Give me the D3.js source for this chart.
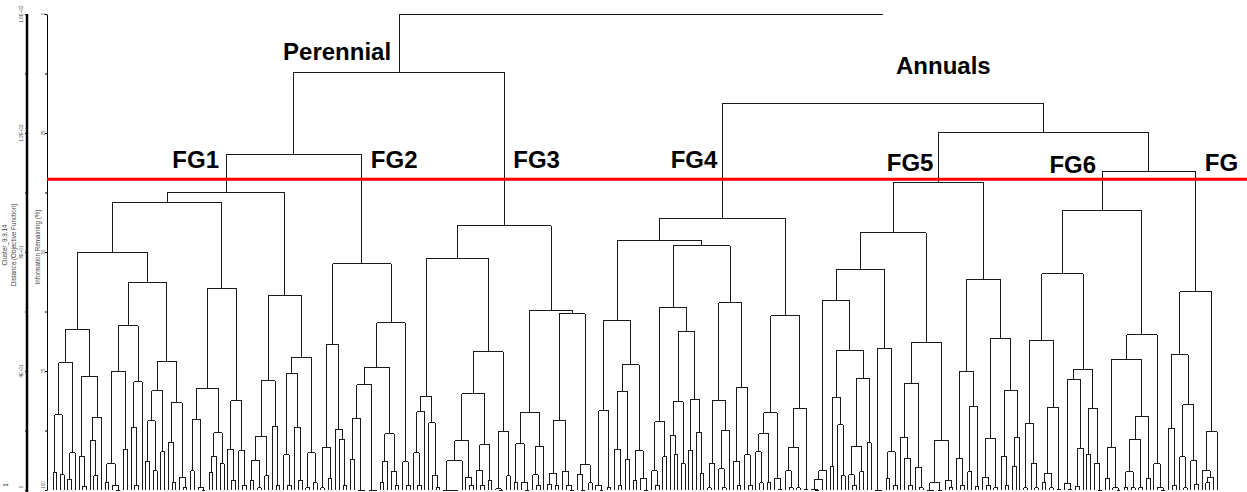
<!DOCTYPE html>
<html>
<head>
<meta charset="utf-8">
<script src="https://cdn.jsdelivr.net/npm/d3@7"></script>
<style>
body { margin: 0; background: #fff; }
svg { display: block; font-family: Arial, "Liberation Sans", sans-serif; }
</style>
</head>
<body>
<svg id="chart" width="1247" height="492"></svg>
<script>
// merge level of every cluster, as Information Remaining (%); a leaf is 0
const fg1 = [37.6,
  [39.5,
    [50.0,
      [66.2,
        [73.3, [84.2, [96.4,0,0], [96.8,0,0]], [92.2, [97.7,0,0], 0]],
        [76.1, [92.9, 0, [99.2,0,0]], [84.7, [89.7,0,[97,0,0]], 0]]],
      [56.5,
        [65.5, [75.2, [94.5,[98.5,0,0],[99,0,[100,0,0]]], [91.4,0,0]], [77.3, [86.8,0,[99,0,0]], 0]],
        [72.9, [79.2, [85.5,[94,0,0],[96,0,0]], [92,0,0]], [81.7, [90.1,0,[98.5,0,0]], [97.3,0,[99.5,0,0]]]]]],
    [57.6,
      [78.6, [85.1,[96,0,0],[99.5,0,[100,0,0]]], [88.0,[92.9,[96.4,0,0],0],[94.5,0,0]]],
      [81.3, [91.4,0,[98,0,0]], [91.8,0,[99,0,0]]]]],
  [59.2,
    [77.1, [88.7, [93.7,[98,0,0],[99.5,0,0]], [97,0,0]], [86.6,0,[99,0,0]]],
    [72.1, [75.6, [92.6,0,[99,0,0]], [86.8,0,[98,0,0]]], [92.2,[99.5,0,0],[98.5,0,0]]]]];

const fg2 = [52.5,
  [69.5, [91.0,[99.5,0,0],[97.5,0,0]], [87.2,0,[89.3,0,[99,0,0]]]],
  [64.9,
    [74.2,
      [77.9, [84.9,[93.5,0,0],[100,0,[100,0,0]]], [100,0,[100,0,0]]],
      [88.2, [94.1,[98.5,0,0],0], [96.2,0,[99,0,0]]]],
    [94.1,0,[99,0,0]]]];

const fg3 = [44.5,
  [51.3,
    [80.3, [83.6,[92.2,0,[99,0,0]],0], [85.9,0,[97,0,[99.5,0,0]]]],
    [71.0,
      [79.8,
        [89.7, [93.9,[100,0,[100,0,[100,0,[100,0,0]]]],0], [97.3,0,[99,0,0]]],
        [90.5, [95.8,0,[99,0,0]], [98,0,0]]],
      [87.8, [99.7,0,[100,0,0]], [97,0,0]]]],
  [62.2,
    [83.8, [90.3,[98.4,0,0],[98.4,0,[100,0,0]]], [90.8,[96.8,0,[99,0,0]],0]],
    [63.0,
      [85.3, [96.6,[98.8,0,0],[99,0,0]], [96.2,0,[99,0,[100,0,0]]]],
      [94.7, [96.8,0,[100,0,0]], [98.5,0,0]]]]];

const fg4 = [42.9,
  [47.5,
    [64.3,
      [83.4, [99,0,[100,0,0]], [99.5,0,0]],
      [73.7, [79.4,[91.4,0,[99,0,0]],[93.5,0,0]], [91.8,[98,0,0],[97.5,0,[100,0,0]]]]],
    [48.7,
      [61.6,
        [85.7, [96,0,[99,0,0]], [93,0,0]],
        [66.8, [81.5,[88.5,0,[92.5,0,0]],[94.5,0,0]], [80.9,[91.6,0,0],[88,0,[96.5,0,0]]]]],
      [60.7,
        [81.1, [94.5,[99.5,0,0],0], [87.4,[95.5,0,[99.5,0,0]],0]],
        [78.4, [94,0,[99,0,0]], [92.6,0,[99,0,0]]]]]],
  [63.4,
    [83.8, [88.2,[92,0,[98.5,0,0]],[98.5,0,0]], [97.5,0,[99.8,0,0]]],
    [82.8, [91.0,[96,0,[99.5,0,0]],[99.5,0,0]], [99.8,0,0]]]];

const fg5 = [35.5,
  [46.0,
    [53.6,
      [60.1,
        [96.0, [97.7,[99.8,0,[100,0,0]],0], 0],
        [70.6,
          [80.5, [95,0,0], [86.3,0,[97,0,0]]],
          [76.5, [90.8,[96.8,0,[99,0,0]],[96.2,0,0]], [90.1,0,0]]]],
      [70.2, [100,0,[100,0,0]], [92.0,[97.5,0,0],[99,0,0]]]],
    [69.1,
      [77.7, [88.9,0,[93.3,0,[99,0,0]]], [95.2,0,[99.5,0,0]]],
      [89.5, [98.5,[100,0,[100,0,0]],[100,0,0]], [98,0,[99.5,0,0]]]]],
  [55.7,
    [75.0, [93.3,0,[99,0,0]], [82.4,[96.2,0,0],[99.2,0,0]]],
    [68.1,
      [89.1, [97.3,0,[99,0,0]], [99.5,0,0]],
      [79.0, [92.9,0,[99,0,0]], [88.9,[95,0,0],0]]]]];

const fg6 = [41.2,
  [54.6,
    [68.5,
      [86.1, [99.5,0,0], [94.5,0,[99.5,0,0]]],
      [82.6, [96.6,[98.5,0,0],[99.5,0,0]], [99.8,0,0]]],
    [74.6,
      [76.7, [98.6,0,[99.8,0,0]], [91.2,[99.2,0,0],0]],
      [82.8, [92.5,0,0], [94.4,0,[100,0,0]]]]],
  [67.4,
    [72.5,
      [91.0, [97.5,0,0], [99.5,0,[100,0,0]]],
      [84.5, [89.3,[96.2,[99.5,0,0],[99.5,0,0]],[99.5,0,0]], [97.5,0,0]]],
    [94.5,0,[99.5,0,[100,0,0]]]]];

const fg7 = [58.4,
  [71.6, [87.0,0,[99,0,0]], [82.1,[93,0,[99.5,0,0]],[93.9,0,[98.8,0,0]]]],
  [87.8, [96.0,0,[97.3,[98.5,0,0],0]], 0]];

// upper merges (Information Remaining %)
const rootLevel = 0;
const perennialLevel = 12.2;
const annualsLevel = 18.7;
const fg5to7Level = 24.8;
const fg1fg2Level = 29.6;
const fg6fg7Level = 33.0;
const cutLevel = 34.7;

const infoTicks = [0, 12.5, 25, 37.5, 50, 62.5, 75, 87.5, 100];
const infoLabels = [0, 25, 50, 75, 100];
const distTicks = [160, 140, 120, 100, 80, 60, 40, 20, 0];
const distLabelValues = [160, 120, 80, 40, 0];
const distLabelText = ["1.6E+02", "1.2E+02", "8E+01", "4E+01", "0"];

function build(a, name) {
    if (!Array.isArray(a)) return {h: 100};
    return {name: name, h: a[0], children: [build(a[1]), build(a[2])]};
}

const treeData = {h: rootLevel, children: [
    {name: "Perennial", h: perennialLevel, children: [
        {h: fg1fg2Level, children: [build(fg1, "FG1"), build(fg2, "FG2")]},
        build(fg3, "FG3")]},
    {name: "Annuals", h: annualsLevel, children: [
        build(fg4, "FG4"),
        {h: fg5to7Level, children: [
            build(fg5, "FG5"),
            {h: fg6fg7Level, children: [build(fg6, "FG6"), build(fg7, "FG")]}]}]}
]};

const svg = d3.select("#chart");
const root = d3.hierarchy(treeData);
d3.cluster().size([1000, 100]).separation(() => 1)(root);

const leaves = root.leaves();
const x = d3.scaleLinear().domain(d3.extent(leaves, d => d.x)).range([53, 1217]);
const yInfo = d3.scaleLinear().domain([0, 100]).range([14, 490]);
const yDist = d3.scaleLinear().domain([160, 0]).range([14, 490]);

// dendrogram
const g = svg.append("g")
    .attr("stroke", "#1a1a1a")
    .attr("stroke-width", 1)
    .attr("fill", "none")
    .attr("shape-rendering", "crispEdges");

root.descendants().filter(d => d.children).forEach(d => {
    const xs = d.children.map(c => x(c.x));
    g.append("line")
        .attr("x1", d3.min(xs)).attr("x2", d3.max(xs))
        .attr("y1", yInfo(d.data.h)).attr("y2", yInfo(d.data.h));
    d.children.forEach(c => {
        if (d.depth === 0 && c.data.name === "Annuals") return; // not drawn in the original
        g.append("line")
            .attr("x1", x(c.x)).attr("x2", x(c.x))
            .attr("y1", yInfo(d.data.h)).attr("y2", yInfo(c.data.h));
    });
});

// distance axis
svg.append("line")
    .attr("x1", 27).attr("x2", 27)
    .attr("y1", yDist(160)).attr("y2", 492)
    .attr("stroke", "#000").attr("stroke-width", 2.5);
svg.append("g")
    .attr("transform", "translate(27,0)")
    .call(d3.axisLeft(yDist).tickValues(distTicks).tickSize(2).tickFormat(""))
    .call(a => a.select(".domain").remove());
svg.append("g")
    .selectAll("text")
    .data(distLabelValues)
    .join("text")
    .attr("transform", d => `translate(23,${Math.min(yDist(d), 487)}) rotate(-90)`)
    .attr("text-anchor", "middle")
    .attr("font-size", "4.5px")
    .attr("fill", "#555")
    .text((d, i) => distLabelText[i]);

// information remaining axis
svg.append("g")
    .attr("transform", "translate(47,0)")
    .call(d3.axisLeft(yInfo).tickValues(infoTicks).tickSize(2).tickSizeOuter(0).tickFormat(""));
svg.append("g")
    .selectAll("text")
    .data(infoLabels)
    .join("text")
    .attr("transform", d => `translate(44.5,${Math.min(yInfo(d), 485)}) rotate(-90)`)
    .attr("text-anchor", "middle")
    .attr("font-size", "4.5px")
    .attr("fill", "#555")
    .text(d => d);

// axis titles
const titles = [
    {t: "Cluster_9.9.14", x: 7, y: 245},
    {t: "Distance (Objective Function)", x: 16, y: 245},
    {t: "Information Remaining (%)", x: 39.5, y: 247},
    {t: "1", x: 8, y: 485}
];
svg.append("g")
    .selectAll("text")
    .data(titles)
    .join("text")
    .attr("transform", d => `translate(${d.x},${d.y}) rotate(-90)`)
    .attr("text-anchor", "middle")
    .attr("font-size", "6.3px")
    .attr("fill", "#444")
    .text(d => d.t);

// cut line
svg.append("line")
    .attr("x1", 47).attr("x2", 1247)
    .attr("y1", yInfo(cutLevel)).attr("y2", yInfo(cutLevel))
    .attr("stroke", "#ff0000").attr("stroke-width", 3);

// group labels
const labelSpots = {
    Perennial: {anchor: "end", dx: -8, y: 60},
    Annuals: {anchor: "start", dx: 13, y: 74},
    FG1: {anchor: "end", dx: -7, y: 168},
    FG2: {anchor: "start", dx: 9, y: 168},
    FG3: {anchor: "start", dx: 9, y: 168},
    FG4: {anchor: "end", dx: -5, y: 168},
    FG5: {anchor: "end", dx: -5, y: 171},
    FG6: {anchor: "end", dx: -6, y: 173},
    FG: {anchor: "start", dx: 9, y: 171}
};
const named = root.descendants().filter(d => d.data.name);
svg.append("g")
    .selectAll("text")
    .data(named)
    .join("text")
    .attr("x", d => x(d.x) + labelSpots[d.data.name].dx)
    .attr("y", d => labelSpots[d.data.name].y)
    .attr("text-anchor", d => labelSpots[d.data.name].anchor)
    .attr("font-size", "24px")
    .attr("font-weight", "bold")
    .attr("fill", "#000")
    .text(d => d.data.name);
</script>
</body>
</html>
